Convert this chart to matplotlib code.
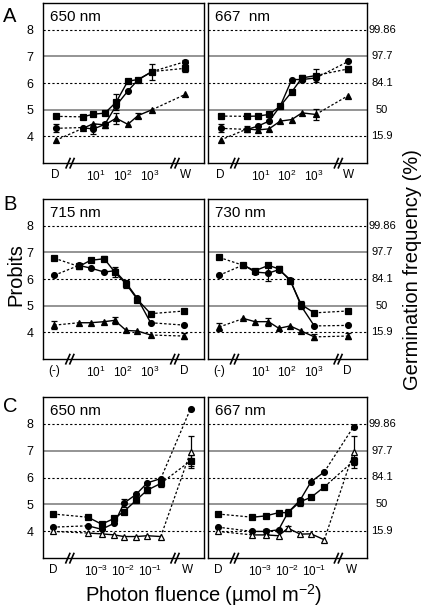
import numpy as np
import matplotlib.pyplot as plt

plt.rcParams['font.family'] = ['Liberation Sans', 'DejaVu Sans']
plt.rcParams['mathtext.fontset'] = 'custom'
plt.rcParams['mathtext.rm'] = 'Liberation Sans'
plt.rcParams['mathtext.it'] = 'Liberation Sans:italic'

# photon fluences (umol m-2) of the measured points
fluence_A = [3.2, 7.8, 21, 55, 150, 360, 1200]
fluence_B = [2.3, 6.2, 20, 49, 130, 340, 1050]
fluence_C = [5e-4, 1.6e-3, 4.8e-3, 1.07e-2, 3.1e-2, 7.9e-2, 0.25]

# probits: [first control, fluence points..., last control]
a650_sq = [4.75, 4.73, 4.83, 4.87, 5.28, 6.07, 6.13, 6.43, 6.55]
a650_ci = [4.30, 4.33, 4.27, 4.45, 5.15, 5.70, 6.12, 6.43, 6.80]
a650_tr = [3.85, 4.30, 4.47, 4.43, 4.68, 4.45, 4.78, 5.00, 5.57]
a667_sq = [4.76, 4.75, 4.76, 4.82, 5.13, 5.67, 6.19, 6.28, 6.53]
a667_ci = [4.30, 4.26, 4.38, 4.57, 5.13, 6.13, 6.13, 6.19, 6.81]
a667_tr = [3.86, 4.28, 4.24, 4.28, 4.57, 4.63, 4.88, 4.82, 5.53]

b715_sq = [6.78, 6.47, 6.70, 6.76, 6.26, 5.81, 5.23, 4.70, 4.80]
b715_ci = [6.14, 6.51, 6.41, 6.26, 6.31, 5.85, 5.27, 4.36, 4.27]
b715_tr = [4.27, 4.36, 4.36, 4.40, 4.45, 4.07, 4.05, 3.90, 3.86]
b730_sq = [6.81, 6.51, 6.31, 6.51, 6.38, 5.94, 5.04, 4.73, 4.80]
b730_ci = [6.14, 6.53, 6.26, 6.22, 6.35, 5.98, 4.98, 4.24, 4.26]
b730_tr = [4.20, 4.52, 4.40, 4.40, 4.15, 4.24, 4.05, 3.83, 3.86]

c650_sq = [4.64, 4.52, 4.26, 4.48, 4.73, 5.16, 5.53, 5.78, 6.62]
c650_ci = [4.15, 4.20, 4.07, 4.30, 5.04, 5.38, 5.80, 5.96, 8.56]
c650_tr = [3.99, 3.93, 3.90, 3.86, 3.80, 3.80, 3.83, 3.80, 6.95]
c667_sq = [4.64, 4.52, 4.57, 4.69, 4.69, 5.10, 5.26, 5.65, 6.62]
c667_ci = [4.15, 3.99, 3.99, 4.05, 4.69, 5.16, 5.84, 6.21, 7.90]
c667_tr = [3.99, 3.86, 3.86, 3.83, 4.11, 3.89, 3.90, 3.68, 6.95]

# standard errors
a650_sq_err = [0, 0, 0, 0, 0.3, 0, 0, 0.3, 0.12]
a650_ci_err = [0.15, 0, 0.2, 0, 0, 0, 0, 0, 0.05]
a650_tr_err = [0, 0, 0, 0.1, 0.2, 0, 0.1, 0, 0]
a667_sq_err = [0, 0, 0, 0, 0, 0, 0.1, 0.25, 0.1]
a667_ci_err = [0.15, 0, 0, 0, 0, 0, 0, 0, 0]
a667_tr_err = [0, 0.1, 0, 0, 0, 0, 0, 0.2, 0]
b715_sq_err = [0, 0.1, 0, 0.1, 0.2, 0.15, 0.1, 0, 0]
b715_ci_err = [0, 0, 0, 0, 0, 0, 0, 0, 0]
b715_tr_err = [0.15, 0, 0, 0, 0.12, 0, 0, 0, 0.12]
b730_sq_err = [0, 0.1, 0, 0, 0.1, 0, 0.15, 0, 0]
b730_ci_err = [0, 0, 0, 0.3, 0, 0, 0, 0, 0]
b730_tr_err = [0.15, 0, 0, 0.15, 0, 0, 0, 0.1, 0.12]
c650_sq_err = [0, 0, 0, 0, 0, 0, 0.12, 0.12, 0.2]
c650_ci_err = [0, 0, 0, 0, 0.15, 0, 0, 0, 0]
c650_tr_err = [0, 0, 0, 0, 0, 0, 0, 0, 0.6]
c667_sq_err = [0, 0, 0, 0, 0.12, 0.15, 0, 0, 0.15]
c667_ci_err = [0, 0, 0.1, 0, 0, 0, 0, 0, 0]
c667_tr_err = [0, 0, 0, 0, 0.1, 0, 0, 0, 0.6]

probit_ticks = [4, 5, 6, 7, 8]
percent_labels = ['15.9', '50', '84.1', '97.7', '99.86']

W, H = 425, 609
fig = plt.figure(figsize=(W / 100, H / 100), dpi=100)


def fig_box(x0, y0, x1, y1):
    return [x0 / W, 1 - y1 / H, (x1 - x0) / W, (y1 - y0) / H]


def draw_series(ax, xs, ys, err, marker, filled, ms):
    dash = dict(color='k', lw=0.9, dashes=(2, 1.6))
    ax.plot(xs[:2], ys[:2], **dash)
    ax.plot(xs[-2:], ys[-2:], **dash)
    ax.plot(xs[1:-1], ys[1:-1], color='k', lw=1.0)
    err = np.array(err, dtype=float)
    m = err > 0
    ax.errorbar(np.array(xs)[m], np.array(ys)[m], yerr=err[m], fmt='none',
                ecolor='k', elinewidth=0.9, capsize=2.2, capthick=0.9)
    ax.plot(xs, ys, ls='none', marker=marker, ms=ms,
            mfc='k' if filled else 'white', mec='k', mew=0.9, zorder=5)


def draw_panel(box, title, fluence, x_first, x_last, tick_first, tick_last,
               lab_first, lab_last, decades, breaks, xlim, series,
               left=True):
    ax = fig.add_axes(fig_box(*box))
    for y in (4, 6, 8):
        ax.axhline(y, color='k', lw=0.8, dashes=(2, 2), zorder=0)
    for y in (5, 7):
        ax.axhline(y, color='#777777', lw=1.1, zorder=0)
    xs = [x_first] + list(np.log10(fluence)) + [x_last]
    for ys, err, marker, filled, ms in series:
        draw_series(ax, xs, ys, err, marker, filled, ms)
    ax.set_xlim(*xlim)
    ax.set_ylim(3.0, 9.0)
    labels = [lab_first] + [r'$\mathregular{10^{%d}}$' % d for d in decades] + [lab_last]
    ax.set_xticks([tick_first] + list(decades) + [tick_last])
    ax.set_xticklabels(labels, fontsize=8.5)
    ax.set_xticks(decades, minor=True)
    ax.tick_params(axis='x', which='major', length=0, pad=4)
    ax.tick_params(axis='x', which='minor', direction='in', length=2.5, width=0.8)
    ax.set_yticks(probit_ticks)
    if left:
        ax.set_yticklabels([str(t) for t in probit_ticks], fontsize=9)
        ax.tick_params(axis='y', length=0, pad=7)
    else:
        ax.set_yticklabels([])
        ax.tick_params(axis='y', length=0)
        for y, lab in zip(probit_ticks, percent_labels):
            ax.text(1.094, y, lab, transform=ax.get_yaxis_transform(),
                    ha='center', va='center', fontsize=8)
    for sp in ax.spines.values():
        sp.set_linewidth(1.0)
    step = (xlim[1] - xlim[0]) / 160
    for xb in breaks:
        for off in (0, 4):
            x0 = xb + (off - 2) * step
            ax.plot([x0, x0 + 4 * step], [-0.03, 0.028], color='k', lw=1.2,
                    transform=ax.get_xaxis_transform(), clip_on=False)
    ax.text(0.045, 0.91, title, transform=ax.transAxes, fontsize=11,
            ha='left', va='center')
    return ax


sq = ('s', True, 4)
ci = ('o', True, 4.2)
tr = ('^', True, 4.6)
otr = ('^', False, 4.8)

cols = [(43, 204), (208, 367)]
rows = [(3, 163), (199, 359), (397, 558)]

A_args = dict(fluence=fluence_A, x_first=-0.5, x_last=4.3, tick_first=-0.5,
              tick_last=4.3, lab_first='D', lab_last='W', decades=[1, 2, 3],
              breaks=[-0.04, 3.85], xlim=(-0.97, 5.0))
B_args = dict(fluence=fluence_B, x_first=-0.55, x_last=4.27, tick_first=-0.55,
              tick_last=4.27, lab_first='(-)', lab_last='D', decades=[1, 2, 3],
              breaks=[-0.05, 3.84], xlim=(-0.97, 5.0))
C_args = dict(fluence=fluence_C, x_first=-4.6, x_last=0.5, tick_first=-4.6,
              tick_last=0.4, lab_first='D', lab_last='W', decades=[-3, -2, -1],
              breaks=[-4.05, -0.15], xlim=(-4.97, 1.0))

draw_panel((cols[0][0], rows[0][0], cols[0][1], rows[0][1]), '650 nm', series=[
    (a650_sq, a650_sq_err, *sq), (a650_ci, a650_ci_err, *ci), (a650_tr, a650_tr_err, *tr)],
    **A_args)
draw_panel((cols[1][0], rows[0][0], cols[1][1], rows[0][1]), '667  nm', series=[
    (a667_sq, a667_sq_err, *sq), (a667_ci, a667_ci_err, *ci), (a667_tr, a667_tr_err, *tr)],
    left=False, **A_args)
draw_panel((cols[0][0], rows[1][0], cols[0][1], rows[1][1]), '715 nm', series=[
    (b715_sq, b715_sq_err, *sq), (b715_ci, b715_ci_err, *ci), (b715_tr, b715_tr_err, *tr)],
    **B_args)
draw_panel((cols[1][0], rows[1][0], cols[1][1], rows[1][1]), '730 nm', series=[
    (b730_sq, b730_sq_err, *sq), (b730_ci, b730_ci_err, *ci), (b730_tr, b730_tr_err, *tr)],
    left=False, **B_args)
draw_panel((cols[0][0], rows[2][0], cols[0][1], rows[2][1]), '650 nm', series=[
    (c650_sq, c650_sq_err, *sq), (c650_ci, c650_ci_err, *ci), (c650_tr, c650_tr_err, *otr)],
    **C_args)
draw_panel((cols[1][0], rows[2][0], cols[1][1], rows[2][1]), '667 nm', series=[
    (c667_sq, c667_sq_err, *sq), (c667_ci, c667_ci_err, *ci), (c667_tr, c667_tr_err, *otr)],
    left=False, **C_args)

for letter, y in (('A', 17), ('B', 205), ('C', 407)):
    fig.text(3 / W, 1 - y / H, letter, fontsize=14.5, ha='left', va='center')

fig.text(16 / W, 1 - 275 / H, 'Probits', rotation=90, fontsize=14.5,
         ha='center', va='center')
fig.text(412 / W, 1 - 270 / H, 'Germination frequency (%)', rotation=90,
         fontsize=14.5, ha='center', va='center')
fig.text(204 / W, 1 - 595 / H, r'Photon fluence (µmol m$\mathregular{^{-2}}$)',
         fontsize=14.5, ha='center', va='center')

fig.savefig('out.png', dpi=100)
